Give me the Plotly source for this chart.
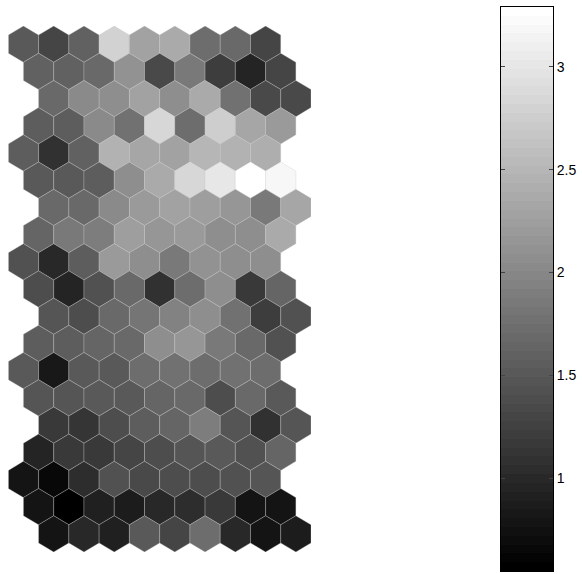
import plotly.graph_objects as go

# ---- data (U-matrix values) ----
VMIN, VMAX = 0.55, 3.29
N_LEVELS = 64
ROW_OFFSETS = [0, 0.5, 1, 0.5]  # horizontal shift of each row, repeating every 4 rows

umat = [
    [1.52, 1.31, 1.61, 2.79, 2.27, 2.36, 1.73, 1.69, 1.29],
    [1.60, 1.61, 1.69, 2.10, 1.35, 1.86, 1.22, 0.95, 1.31],
    [1.67, 2.03, 2.05, 2.29, 2.08, 2.38, 1.76, 1.35, 1.35],
    [1.56, 1.56, 2.03, 1.75, 2.83, 1.71, 2.74, 2.31, 2.21],
    [1.54, 1.10, 1.60, 2.44, 2.33, 2.27, 2.48, 2.44, 2.40],
    [1.52, 1.52, 1.56, 2.08, 2.36, 2.83, 3.00, 3.29, 3.18],
    [1.67, 1.69, 2.03, 2.21, 2.27, 2.25, 2.14, 1.86, 2.33],
    [1.63, 1.84, 1.88, 2.23, 2.16, 2.21, 2.05, 2.08, 2.38],
    [1.41, 1.00, 1.56, 2.21, 2.08, 1.86, 2.12, 2.08, 2.08],
    [1.39, 0.95, 1.41, 1.69, 1.10, 1.73, 2.08, 1.17, 1.63],
    [1.46, 1.39, 1.69, 1.80, 1.93, 2.08, 1.78, 1.22, 1.41],
    [1.56, 1.56, 1.63, 1.67, 2.05, 2.14, 1.86, 1.69, 1.41],
    [1.52, 0.83, 1.52, 1.50, 1.73, 1.75, 1.73, 1.78, 1.73],
    [1.46, 1.46, 1.52, 1.52, 1.63, 1.69, 1.39, 1.69, 1.52],
    [1.15, 1.13, 1.39, 1.56, 1.63, 1.90, 1.46, 1.07, 1.46],
    [0.96, 1.15, 1.17, 1.28, 1.39, 1.46, 1.50, 1.43, 1.63],
    [0.79, 0.66, 1.04, 1.41, 1.35, 1.39, 1.39, 1.41, 1.46],
    [0.77, 0.55, 0.92, 0.85, 1.00, 1.04, 1.15, 0.79, 0.79],
    [0.79, 1.00, 0.92, 1.52, 1.29, 1.73, 1.00, 0.77, 0.85],
]

cbar_tickvals = [1, 1.5, 2, 2.5, 3]
cbar_ticktext = ["1", "1.5", "2", "2.5", "3"]


def level_of(v):
    idx = int((v - VMIN) / (VMAX - VMIN) * N_LEVELS)
    return max(0, min(N_LEVELS - 1, idx))


def gray_of_level(k):
    g = round(k / (N_LEVELS - 1) * 255)
    return f"rgb({g},{g},{g})"


fig = go.Figure()

# hexagon cells
for i, row in enumerate(umat):
    off = ROW_OFFSETS[i % 4]
    for j, v in enumerate(row):
        cx = j + off
        cy = i
        xs = [cx, cx + 0.5, cx + 0.5, cx, cx - 0.5, cx - 0.5, cx]
        ys = [cy - 2 / 3, cy - 1 / 3, cy + 1 / 3, cy + 2 / 3, cy + 1 / 3, cy - 1 / 3, cy - 2 / 3]
        fig.add_trace(go.Scatter(
            x=xs, y=ys, mode="lines", fill="toself",
            fillcolor=gray_of_level(level_of(v)),
            line=dict(color="rgba(200,200,200,0.45)", width=0.7),
            hoverinfo="skip", showlegend=False,
            xaxis="x", yaxis="y",
        ))

# colorbar as a stepped heatmap on its own axes
step = (VMAX - VMIN) / N_LEVELS
cb_y = [VMIN + (k + 0.5) * step for k in range(N_LEVELS)]
cb_z = [[k] for k in range(N_LEVELS)]
fig.add_trace(go.Heatmap(
    x=[0], y=cb_y, z=cb_z, zmin=0, zmax=N_LEVELS - 1,
    colorscale=[[0, "rgb(0,0,0)"], [1, "rgb(255,255,255)"]],
    showscale=False, hoverinfo="skip",
    xaxis="x2", yaxis="y2",
))

W, H = 582, 574
fig.update_layout(
    width=W, height=H,
    margin=dict(l=0, r=0, t=0, b=0),
    paper_bgcolor="white", plot_bgcolor="white",
    hovermode=False,
    font=dict(family="Liberation Sans, Arial, sans-serif", size=14, color="black"),
    xaxis=dict(domain=[8.3 / W, 311 / W], range=[-0.5, 9.5], visible=False, fixedrange=True),
    yaxis=dict(domain=[1 - 552 / H, 1 - 26 / H], range=[18 + 2 / 3, -2 / 3], visible=False, fixedrange=True),
    xaxis2=dict(domain=[501 / W, 553 / W], range=[-0.5, 0.5], anchor="y2",
                showticklabels=False, ticks="", showgrid=False, zeroline=False,
                showline=True, linecolor="black", linewidth=1, mirror=True),
    yaxis2=dict(domain=[1 - 571 / H, 1 - 7 / H], range=[VMIN, VMAX], anchor="x2", side="right",
                tickvals=cbar_tickvals, ticktext=cbar_ticktext,
                ticks="inside", ticklen=4, tickcolor="#444", tickwidth=1,
                showgrid=False, zeroline=False,
                showline=True, linecolor="black", linewidth=1, mirror="ticks",
                tickfont=dict(family="Liberation Sans, Arial, sans-serif", size=14, color="black")),
)

fig.write_html(
    "out.html",
    config={"displayModeBar": False, "staticPlot": True},
    post_script="document.body.style.margin='0px';document.body.style.padding='0px';document.body.style.overflow='hidden';",
)
